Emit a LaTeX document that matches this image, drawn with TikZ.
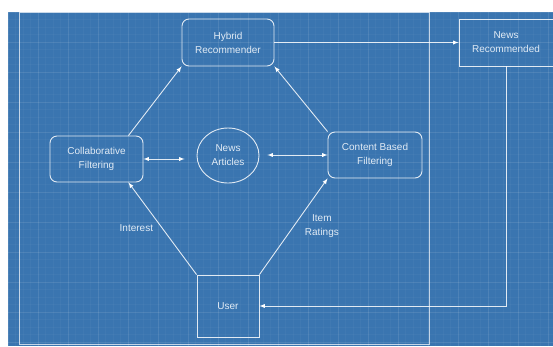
\documentclass[tikz,border=0pt]{standalone}
\usepackage{fontspec}
\setmainfont{Liberation Sans}
\usetikzlibrary{calc,shapes.geometric}

\definecolor{bpblue}{RGB}{58,117,176}
\definecolor{bpink}{RGB}{225,235,245}

\begin{document}
\begin{tikzpicture}[x=1pt,y=-1pt]

\tikzstyle{recnode} = [rectangle,rounded corners=7pt,draw=white,draw opacity=0.85,line width=0.9pt,inner sep=2pt,font=\fontsize{10}{14}\selectfont,text=bpink,align=center]%
\tikzstyle{recbox} = [recnode, rounded corners=0pt]%
\tikzstyle{recdata} = [recnode, ellipse, minimum width=62pt, minimum height=55pt]%
\tikzstyle{recarc} = [->,draw=white,draw opacity=0.85,line width=0.9pt,>=latex]%
\tikzstyle{reclabel} = [inner sep=1pt,font=\fontsize{10}{14}\selectfont,text=bpink,align=center]%
\tikzstyle{frame} = [draw=white,draw opacity=0.7,line width=0.9pt]%
\tikzstyle{minorline} = [white,opacity=0.03,line width=0.5pt]%
\tikzstyle{majorline} = [white,opacity=0.07,line width=0.6pt]%

\useasboundingbox[fill=white] (0,0) rectangle (553,346);
\fill[bpblue] (8,12) rectangle (553,346);

% blueprint grid
\foreach \gx in {8,15.5,...,553} \draw[minorline] (\gx,12) -- (\gx,346);
\foreach \gy in {12,19.5,...,346} \draw[minorline] (8,\gy) -- (553,\gy);
\foreach \gx in {8,38,...,553} \draw[majorline] (\gx,12) -- (\gx,346);
\foreach \gy in {12,42,...,346} \draw[majorline] (8,\gy) -- (553,\gy);

% frame round the recommender
\draw[frame] (19,12.5) rectangle (429,344);

\node[recnode,minimum width=92pt,minimum height=47pt] (hybrid) at (228,42.5) {Hybrid\\Recommender};
\node[recbox,minimum width=94pt,minimum height=47pt] (newsrec) at (506,42.5) {News\\Recommended};

\node[recnode,minimum width=93pt,minimum height=46pt] (collab) at (96.5,159) {Collaborative\\Filtering};
\node[recdata] (articles) at (228,155.5) {News\\Articles};
\node[recnode,minimum width=94pt,minimum height=46pt] (content) at (375,155) {Content Based\\Filtering};

\node[recbox,minimum width=62pt,minimum height=62pt] (user) at (228,306) {User};

\draw[recarc] (hybrid.east) -- (newsrec.west);

\draw[recarc] ($(collab.north east)+(-15,0)$) -- (hybrid.south west);
\draw[recarc] (content.north west) -- (hybrid.south east);

\draw[recarc,<->] (collab.east) -- ([xshift=-12pt]collab.east -| articles.west);
\draw[recarc,<->] ([xshift=8pt]content.west -| articles.east) -- (content.west);

\draw[recarc] (user.north west) --
    node[reclabel,pos=0.5,left=8pt] {Interest}
    ($(collab.south east)+(-15,0)$);
\draw[recarc] (user.north east) --
    node[reclabel,pos=0.5,right=10pt] {Item\\Ratings}
    (content.south west);

\draw[recarc] (newsrec.south) |- (user.east);

\end{tikzpicture}
\end{document}
